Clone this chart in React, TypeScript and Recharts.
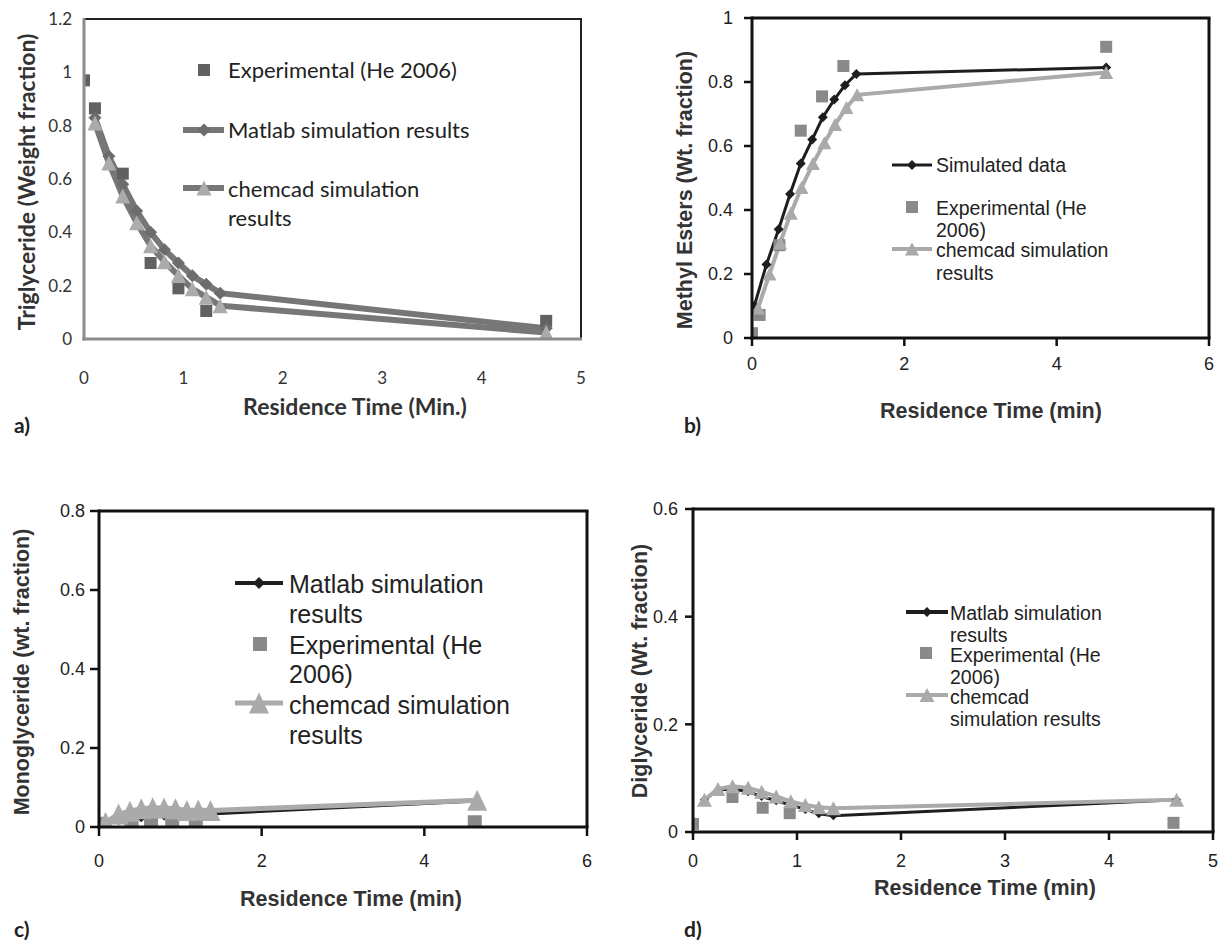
import React from "react";
import { LineChart, Line, XAxis, YAxis } from "recharts";

const CAL = "Lato, 'Open Sans', sans-serif";
const ARIAL = "'Liberation Sans', Arial, sans-serif";
const NARROW = "'Liberation Sans Narrow', 'Liberation Sans', Arial, sans-serif";

// a) triglyceride
const aExpTime = [0, 0.11, 0.39, 0.67, 0.95, 1.23, 4.65];
const aExp = [0.97, 0.865, 0.62, 0.285, 0.19, 0.105, 0.068];
const aSimTime = [0.11, 0.25, 0.39, 0.53, 0.67, 0.81, 0.95, 1.09, 1.23, 1.37, 4.65];
const aMatlab = [0.83, 0.685, 0.58, 0.48, 0.4, 0.335, 0.285, 0.237, 0.205, 0.172, 0.04];
const aChemcad = [0.81, 0.66, 0.536, 0.436, 0.35, 0.29, 0.238, 0.188, 0.157, 0.125, 0.024];
const aXTicks = [0, 1, 2, 3, 4, 5];
const aYTicks = [0, 0.2, 0.4, 0.6, 0.8, 1, 1.2];

// b) methyl esters
const bExpTime = [0, 0.1, 0.36, 0.64, 0.92, 1.2, 4.65];
const bExp = [0.015, 0.072, 0.29, 0.648, 0.755, 0.85, 0.91];
const bMatlabTime = [0.03, 0.19, 0.35, 0.5, 0.64, 0.79, 0.93, 1.08, 1.22, 1.37, 4.65];
const bMatlab = [0.1, 0.23, 0.34, 0.45, 0.545, 0.62, 0.69, 0.745, 0.79, 0.825, 0.845];
const bChemTime = [0.08, 0.23, 0.37, 0.51, 0.65, 0.8, 0.95, 1.09, 1.24, 1.38, 4.65];
const bChemcad = [0.094, 0.2, 0.297, 0.39, 0.47, 0.545, 0.61, 0.667, 0.72, 0.76, 0.83];
const bXTicks = [0, 2, 4, 6];
const bYTicks = [0, 0.2, 0.4, 0.6, 0.8, 1];

// c) monoglyceride
const cExpTime = [0, 0.4, 0.64, 0.9, 1.19, 4.62];
const cExp = [0.008, 0.01, 0.014, 0.008, 0.004, 0.012];
const cSimTime = [0.08, 0.24, 0.38, 0.52, 0.66, 0.8, 0.94, 1.08, 1.22, 1.37, 4.65];
const cMatlab = [0.01, 0.018, 0.022, 0.025, 0.027, 0.029, 0.03, 0.031, 0.032, 0.033, 0.066];
const cChemcad = [0.012, 0.033, 0.04, 0.046, 0.049, 0.048, 0.046, 0.042, 0.043, 0.042, 0.068];
const cXTicks = [0, 2, 4, 6];
const cYTicks = [0, 0.2, 0.4, 0.6, 0.8];

// d) diglyceride
const dExpTime = [0, 0.38, 0.67, 0.93, 4.62];
const dExp = [0.015, 0.065, 0.045, 0.035, 0.017];
const dSimTime = [0.11, 0.24, 0.38, 0.53, 0.66, 0.8, 0.94, 1.08, 1.21, 1.35, 4.65];
const dMatlab = [0.06, 0.078, 0.08, 0.075, 0.066, 0.058, 0.05, 0.042, 0.034, 0.03, 0.06];
const dChemcad = [0.06, 0.08, 0.085, 0.082, 0.075, 0.066, 0.057, 0.05, 0.046, 0.044, 0.06];
const dXTicks = [0, 1, 2, 3, 4, 5];
const dYTicks = [0, 0.2, 0.4, 0.6];

const pts = (xs: number[], ys: number[]) => xs.map((x, i) => ({ x, y: ys[i] }));

const square = (s: number, fill: string) => (p: any) => (
  <rect key={`sq${p.index}`} x={p.cx - s / 2} y={p.cy - s / 2} width={s} height={s} fill={fill} />
);
const diamond = (s: number, fill: string) => (p: any) => (
  <polygon
    key={`di${p.index}`}
    points={`${p.cx},${p.cy - s / 2} ${p.cx + s / 2},${p.cy} ${p.cx},${p.cy + s / 2} ${p.cx - s / 2},${p.cy}`}
    fill={fill}
  />
);
const triangle = (w: number, h: number, fill: string) => (p: any) => (
  <polygon
    key={`tr${p.index}`}
    points={`${p.cx},${p.cy - h / 2} ${p.cx + w / 2},${p.cy + h / 2} ${p.cx - w / 2},${p.cy + h / 2}`}
    fill={fill}
  />
);

type Series = { data: { x: number; y: number }[]; stroke: string; width: number; dot: any };

function Panel(props: any) {
  const { box, plot, xDomain, xTicks, yDomain, yTicks, series, tick, tickSize, xGap, yGap, showTicks } = props;
  const margin = { top: plot.top - box.top, right: box.left + box.width - plot.right, left: 0, bottom: 0 };
  const yw = plot.left - box.left;
  const xh = box.top + box.height - plot.bottom;
  const tl = showTicks ? { stroke: "#111", strokeWidth: 2.5 } : false;
  return (
    <div style={{ position: "absolute", left: box.left, top: box.top }}>
      <LineChart width={box.width} height={box.height} margin={margin}>
        <XAxis
          type="number"
          dataKey="x"
          domain={xDomain}
          ticks={xTicks}
          height={xh}
          axisLine={false}
          tickLine={tl}
          tickSize={tickSize}
          tickMargin={xGap}
          tick={tick}
          interval={0}
          allowDataOverflow
        />
        <YAxis
          type="number"
          domain={yDomain}
          ticks={yTicks}
          width={yw}
          axisLine={false}
          tickLine={tl}
          tickSize={tickSize}
          tickMargin={yGap}
          tick={tick}
          interval={0}
          allowDataOverflow
        />
        {series.map((s: Series, i: number) => (
          <Line
            key={i}
            data={s.data}
            dataKey="y"
            type="linear"
            stroke={s.stroke}
            strokeWidth={s.width}
            dot={s.dot}
            activeDot={false}
            isAnimationActive={false}
          />
        ))}
      </LineChart>
    </div>
  );
}

// plot-area border drawn over the chart
function Frame({ plot, lc, lw, tc, tw }: any) {
  const { left, right, top, bottom } = plot;
  return (
    <svg style={{ position: "absolute", left: 0, top: 0, overflow: "visible", pointerEvents: "none" }} width={1219} height={940}>
      <line x1={left} x2={right + tw / 2} y1={top} y2={top} stroke={tc} strokeWidth={tw} />
      <line x1={right} x2={right} y1={top} y2={bottom} stroke={tc} strokeWidth={tw} />
      <line x1={left} x2={left} y1={top - tw / 2} y2={bottom + lw / 2} stroke={lc} strokeWidth={lw} />
      <line x1={left - lw / 2} x2={right + tw / 2} y1={bottom} y2={bottom} stroke={lc} strokeWidth={lw} />
    </svg>
  );
}

function Txt({ x, y, children, style, center, rotate }: any) {
  return (
    <div
      style={{
        position: "absolute",
        left: x,
        top: y,
        whiteSpace: "nowrap",
        transform: rotate
          ? "translate(-50%, -50%) rotate(-90deg)"
          : center
          ? "translate(-50%, -50%)"
          : "translateY(-50%)",
        ...style,
      }}
    >
      {children}
    </div>
  );
}

function Icon({ x1, x2, y, line, lineW, marker }: any) {
  return (
    <svg style={{ position: "absolute", left: 0, top: 0, overflow: "visible", pointerEvents: "none" }} width={1219} height={940}>
      {line && <line x1={x1} x2={x2} y1={y} y2={y} stroke={line} strokeWidth={lineW} />}
      {marker}
    </svg>
  );
}

const aPlot = { left: 84, right: 581, top: 19, bottom: 339 };
const bPlot = { left: 752, right: 1209, top: 18, bottom: 338 };
const cPlot = { left: 99, right: 587, top: 511, bottom: 827 };
const dPlot = { left: 693, right: 1213, top: 509, bottom: 832 };

export default function App() {
  const tickA = { fill: "#333", fontSize: 17, fontFamily: CAL };
  const tickB = { fill: "#222", fontSize: 18, fontFamily: NARROW };
  const titleA = { fontFamily: CAL, fontWeight: 700, fontSize: 23, color: "#333" };
  const titleB = { fontFamily: ARIAL, fontWeight: 700, fontSize: 21.5, color: "#333" };
  const legA = { fontFamily: CAL, fontSize: 22, color: "#222", lineHeight: "24px" };
  const legB = { fontFamily: ARIAL, fontSize: 19.5, color: "#222", lineHeight: "18px" };
  const legC = { fontFamily: ARIAL, fontSize: 25, color: "#222", lineHeight: "26px" };
  const panelLbl = { fontFamily: CAL, fontWeight: 700, fontSize: 21, color: "#222" };

  const dark = "#1e1e1e";
  const light = "#aaaaaa";
  const mid = "#8a8a8a";

  return (
    <div style={{ position: "absolute", left: 0, top: 0, width: 1219, height: 940, background: "#fff", overflow: "hidden" }}>
      <Panel
        box={{ left: 0, top: 0, width: 600, height: 440 }}
        plot={aPlot}
        xDomain={[0, 5]}
        xTicks={aXTicks}
        yDomain={[0, 1.2]}
        yTicks={aYTicks}
        tick={tickA}
        tickSize={0}
        xGap={33}
        yGap={12}
        showTicks={false}
        series={[
          { data: pts(aExpTime, aExp), stroke: "none", width: 0, dot: square(12, "#616161") },
          { data: pts(aSimTime, aMatlab), stroke: "#767676", width: 6, dot: diamond(13, "#6c6c6c") },
          { data: pts(aSimTime, aChemcad), stroke: "#777777", width: 6, dot: triangle(15, 15, "#ababab") },
        ]}
      />
      <Panel
        box={{ left: 600, top: 0, width: 619, height: 440 }}
        plot={bPlot}
        xDomain={[0, 6]}
        xTicks={bXTicks}
        yDomain={[0, 1]}
        yTicks={bYTicks}
        tick={tickB}
        tickSize={8}
        xGap={11}
        yGap={11}
        showTicks
        series={[
          { data: pts(bMatlabTime, bMatlab), stroke: dark, width: 3, dot: diamond(10, dark) },
          { data: pts(bExpTime, bExp), stroke: "none", width: 0, dot: square(12, mid) },
          { data: pts(bChemTime, bChemcad), stroke: light, width: 4, dot: triangle(14, 13, light) },
        ]}
      />
      <Panel
        box={{ left: 0, top: 440, width: 600, height: 500 }}
        plot={cPlot}
        xDomain={[0, 6]}
        xTicks={cXTicks}
        yDomain={[0, 0.8]}
        yTicks={cYTicks}
        tick={tickB}
        tickSize={9}
        xGap={18}
        yGap={5}
        showTicks
        series={[
          { data: pts(cSimTime, cMatlab), stroke: dark, width: 3, dot: diamond(10, dark) },
          { data: pts(cExpTime, cExp), stroke: "none", width: 0, dot: square(14, mid) },
          { data: pts(cSimTime, cChemcad), stroke: light, width: 5, dot: triangle(20, 21, light) },
        ]}
      />
      <Panel
        box={{ left: 600, top: 440, width: 619, height: 500 }}
        plot={dPlot}
        xDomain={[0, 5]}
        xTicks={dXTicks}
        yDomain={[0, 0.6]}
        yTicks={dYTicks}
        tick={tickB}
        tickSize={8}
        xGap={14}
        yGap={7}
        showTicks
        series={[
          { data: pts(dSimTime, dMatlab), stroke: dark, width: 3, dot: diamond(9, dark) },
          { data: pts(dExpTime, dExp), stroke: "none", width: 0, dot: square(12, mid) },
          { data: pts(dSimTime, dChemcad), stroke: light, width: 4, dot: triangle(15, 14, light) },
        ]}
      />

      <Frame plot={aPlot} lc="#8c8c8c" lw={3} tc="#222" tw={2} />
      <Frame plot={bPlot} lc="#111" lw={3} tc="#111" tw={3} />
      <Frame plot={cPlot} lc="#111" lw={3} tc="#111" tw={3} />
      <Frame plot={dPlot} lc="#111" lw={3} tc="#111" tw={3} />

      {/* axis titles */}
      <Txt x={26} y={182} rotate style={titleA}>Triglyceride (Weight fraction)</Txt>
      <Txt x={355} y={406} center style={titleA}>Residence Time (Min.)</Txt>
      <Txt x={685} y={190} rotate style={titleB}>Methyl Esters (Wt. fraction)</Txt>
      <Txt x={991} y={411} center style={titleB}>Residence Time (min)</Txt>
      <Txt x={22} y={672} rotate style={titleB}>Monoglyceride (wt. fraction)</Txt>
      <Txt x={351} y={899} center style={titleB}>Residence Time (min)</Txt>
      <Txt x={640} y={671} rotate style={titleB}>Diglyceride (Wt. fraction)</Txt>
      <Txt x={985} y={888} center style={titleB}>Residence Time (min)</Txt>

      {/* panel letters */}
      <Txt x={14} y={424} style={panelLbl}>a)</Txt>
      <Txt x={684} y={424} style={panelLbl}>b)</Txt>
      <Txt x={14} y={928} style={panelLbl}>c)</Txt>
      <Txt x={684} y={928} style={panelLbl}>d)</Txt>

      {/* legend a */}
      <Icon marker={square(12, "#616161")({ cx: 204, cy: 70, index: 0 })} />
      <Txt x={228} y={70} style={legA}>Experimental (He 2006)</Txt>
      <Icon x1={183} x2={224} y={130} line="#767676" lineW={6} marker={diamond(13, "#6c6c6c")({ cx: 204, cy: 130, index: 0 })} />
      <Txt x={228} y={130} style={legA}>Matlab simulation results</Txt>
      <Icon x1={183} x2={224} y={188} line="#777777" lineW={6} marker={triangle(15, 15, "#ababab")({ cx: 204, cy: 188, index: 0 })} />
      <Txt x={228} y={189} style={legA}>chemcad simulation</Txt>
      <Txt x={228} y={218} style={legA}>results</Txt>

      {/* legend b */}
      <Icon x1={892} x2={932} y={165} line={dark} lineW={3} marker={diamond(10, dark)({ cx: 912, cy: 165, index: 0 })} />
      <Txt x={936} y={165} style={legB}>Simulated data</Txt>
      <Icon marker={square(12, mid)({ cx: 912, cy: 207, index: 0 })} />
      <Txt x={936} y={208} style={legB}>Experimental (He</Txt>
      <Txt x={936} y={230} style={legB}>2006)</Txt>
      <Icon x1={892} x2={932} y={249} line={light} lineW={4} marker={triangle(14, 13, light)({ cx: 912, cy: 249, index: 0 })} />
      <Txt x={936} y={250} style={legB}>chemcad simulation</Txt>
      <Txt x={936} y={273} style={legB}>results</Txt>

      {/* legend c */}
      <Icon x1={235} x2={283} y={583} line={dark} lineW={4} marker={diamond(12, dark)({ cx: 259, cy: 583, index: 0 })} />
      <Txt x={289} y={584} style={legC}>Matlab simulation</Txt>
      <Txt x={289} y={614} style={legC}>results</Txt>
      <Icon marker={square(14, mid)({ cx: 260, cy: 644, index: 0 })} />
      <Txt x={289} y={645} style={legC}>Experimental (He</Txt>
      <Txt x={289} y={674} style={legC}>2006)</Txt>
      <Icon x1={235} x2={283} y={703} line={light} lineW={5} marker={triangle(20, 21, light)({ cx: 259, cy: 703, index: 0 })} />
      <Txt x={289} y={705} style={legC}>chemcad simulation</Txt>
      <Txt x={289} y={735} style={legC}>results</Txt>

      {/* legend d */}
      <Icon x1={906} x2={948} y={612} line={dark} lineW={4} marker={diamond(10, dark)({ cx: 927, cy: 612, index: 0 })} />
      <Txt x={950} y={613} style={legB}>Matlab simulation</Txt>
      <Txt x={950} y={635} style={legB}>results</Txt>
      <Icon marker={square(12, mid)({ cx: 926, cy: 653, index: 0 })} />
      <Txt x={950} y={655} style={legB}>Experimental (He</Txt>
      <Txt x={950} y={677} style={legB}>2006)</Txt>
      <Icon x1={906} x2={948} y={695} line={light} lineW={4} marker={triangle(15, 14, light)({ cx: 927, cy: 695, index: 0 })} />
      <Txt x={950} y={697} style={legB}>chemcad</Txt>
      <Txt x={950} y={719} style={legB}>simulation results</Txt>
    </div>
  );
}
